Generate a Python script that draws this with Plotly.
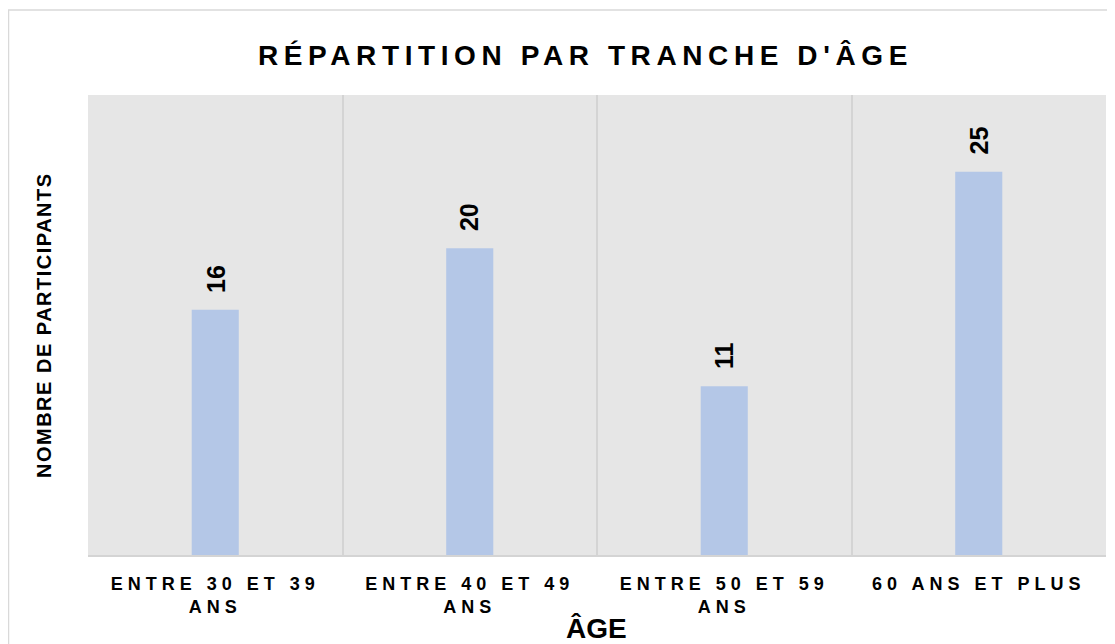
import plotly.graph_objects as go

categories = ["ENTRE 30 ET 39 ANS", "ENTRE 40 ET 49 ANS", "ENTRE 50 ET 59 ANS", "60 ANS ET PLUS"]
tick_labels = ["ENTRE 30 ET 39<br>ANS", "ENTRE 40 ET 49<br>ANS", "ENTRE 50 ET 59<br>ANS", "60 ANS ET PLUS"]
participants = [16, 20, 11, 25]

FONT = "Liberation Sans, Arial, sans-serif"

# page body has an 8px margin, so the figure is laid out in shifted pixels
W, H = 1107, 636
L, R, T, B = 80, 1098, 87, 547  # plot area edges in figure pixels
PW, PH = R - L, B - T


def px_x(x):
    return (x - L) / PW


def px_y(y):
    return (B - y) / PH


def spaced(text, px):
    # bold + letter spacing applied per line (plotly splits on <br>)
    return "<br>".join(
        f'<span style="letter-spacing:{px}px"><b>{line}</b></span>' for line in text.split("<br>")
    )


fig = go.Figure()
fig.add_trace(
    go.Bar(
        x=categories,
        y=participants,
        marker=dict(color="#b4c7e7", line=dict(width=0)),
        width=0.185,
        hoverinfo="x+y",
    )
)

for cat, val in zip(categories, participants):
    fig.add_annotation(
        x=cat, y=val, text=f"<b>{val}</b>", textangle=-90,
        showarrow=False, yanchor="bottom", yshift=15,
        font=dict(family=FONT, size=25, color="#000000"),
    )

fig.add_annotation(
    xref="paper", yref="paper", x=px_x(577), y=px_y(48),
    text=spaced("RÉPARTITION PAR TRANCHE D'ÂGE", 5.6),
    showarrow=False, xanchor="center", yanchor="middle",
    font=dict(family=FONT, size=28, color="#000000"),
)
fig.add_annotation(
    xref="paper", yref="paper", x=px_x(588), y=px_y(620),
    text="<b>ÂGE</b>",
    showarrow=False, xanchor="center", yanchor="middle",
    font=dict(family=FONT, size=28, color="#000000"),
)
fig.add_annotation(
    xref="paper", yref="paper", x=px_x(36), y=0.5,
    text=spaced("NOMBRE DE PARTICIPANTS", 1.5),
    textangle=-90, showarrow=False, xanchor="center", yanchor="middle",
    font=dict(family=FONT, size=20, color="#000000"),
)

# outer chart frame
fig.add_shape(
    type="rect", xref="paper", yref="paper",
    x0=px_x(0.5), x1=px_x(1106.5),
    y0=px_y(660), y1=px_y(2),
    line=dict(color="#d9d9d9", width=1.5), fillcolor="rgba(0,0,0,0)", layer="below",
)

fig.update_layout(
    width=W,
    height=H,
    margin=dict(l=L, r=W - R, t=T, b=H - B),
    paper_bgcolor="white",
    plot_bgcolor="#e6e6e6",
    showlegend=False,
    font=dict(family=FONT, color="#000000"),
    xaxis=dict(
        type="category",
        tickvals=categories,
        ticktext=[spaced(t, 5) for t in tick_labels],
        tickfont=dict(family=FONT, size=18, color="#000000"),
        tickson="boundaries",
        ticks="",
        ticklabelstandoff=11,
        showgrid=True,
        gridcolor="#d4d4d4",
        gridwidth=1.5,
        showline=True,
        linecolor="#d4d4d4",
        linewidth=2,
        zeroline=False,
        range=[-0.5, 3.5],
    ),
    yaxis=dict(
        range=[0, 30],
        showticklabels=False,
        showgrid=False,
        zeroline=False,
        ticks="",
    ),
)

fig.write_html("out.html")
